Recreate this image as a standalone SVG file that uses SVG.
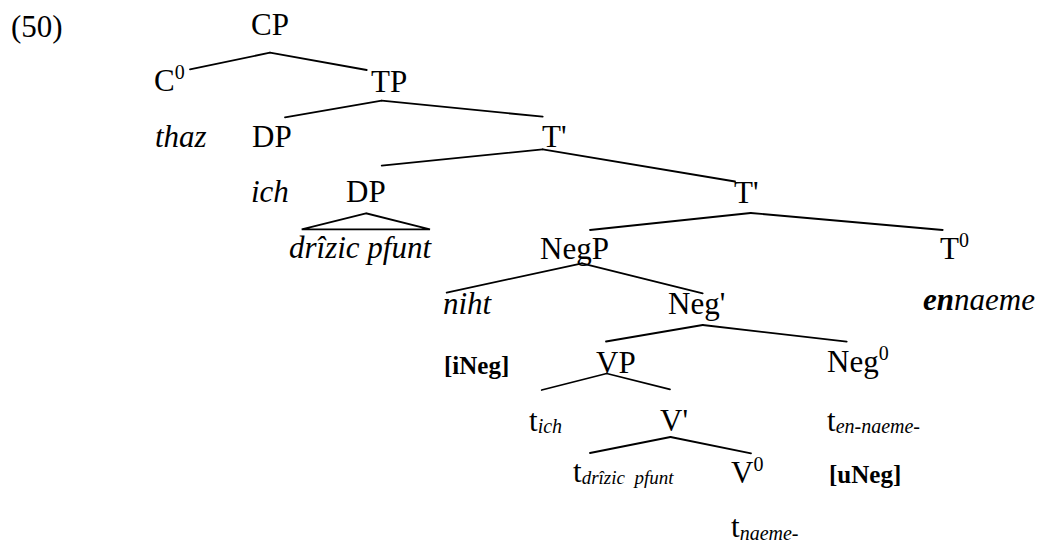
<svg xmlns="http://www.w3.org/2000/svg" width="1041" height="542" viewBox="0 0 1041 542">
<style>
text{font-family:"Liberation Serif",serif;font-size:31px;fill:#000}
.it{font-style:italic}
.b{font-weight:bold;font-size:25px}
.sup{font-size:20px}
.sub{font-size:20px;font-style:italic}
.sub2{font-size:19px;font-style:italic}
.edge{stroke:#000;stroke-width:1.8;fill:none;stroke-linecap:round}
</style>
<rect width="1041" height="542" fill="#fff"/>
<g id="connectors">
<line class="edge" x1="270" y1="52.7" x2="190" y2="69.3"/>
<line class="edge" x1="270" y1="52.7" x2="366.7" y2="70"/>
<line class="edge" x1="381.7" y1="100.7" x2="285" y2="117.3"/>
<line class="edge" x1="381.7" y1="100.7" x2="542.7" y2="116.7"/>
<line class="edge" x1="542.7" y1="149.3" x2="381.7" y2="165.7"/>
<line class="edge" x1="542.7" y1="149.3" x2="735" y2="181.5"/>
<line class="edge" x1="750.7" y1="213" x2="590" y2="230"/>
<line class="edge" x1="750.7" y1="213" x2="942.7" y2="230"/>
<line class="edge" x1="582" y1="263.3" x2="446.7" y2="292.7"/>
<line class="edge" x1="582" y1="263.3" x2="702.7" y2="293.3"/>
<line class="edge" x1="702.7" y1="325" x2="606" y2="341.5"/>
<line class="edge" x1="702.7" y1="325" x2="846.7" y2="341.7"/>
<line class="edge" x1="606.7" y1="373.5" x2="541.7" y2="390"/>
<line class="edge" x1="606.7" y1="373.5" x2="670" y2="389.3"/>
<line class="edge" x1="670.5" y1="437" x2="590" y2="453"/>
<line class="edge" x1="670.5" y1="437" x2="751" y2="453.3"/>
<polygon class="edge" points="366,213.3 301.7,229.3 430,229.3"/>
</g>
<g id="label50"><text x="11" y="37">(50)</text></g>
<g id="CP"><text x="251" y="35">CP</text></g>
<g id="C0"><text x="154" y="91">C<tspan class="sup" dy="-12">0</tspan></text></g>
<g id="TP"><text x="371" y="92">TP</text></g>
<g id="thaz"><text class="it" x="155" y="147">thaz</text></g>
<g id="DP1"><text x="252" y="147">DP</text></g>
<g id="Tbar1"><text x="542" y="147">T'</text></g>
<g id="ich"><text class="it" x="251" y="202">ich</text></g>
<g id="DP2"><text x="346" y="202">DP</text></g>
<g id="Tbar2"><text x="734" y="203">T'</text></g>
<g id="drizic"><text class="it" x="289" y="258">drîzic pfunt</text></g>
<g id="NegP"><text x="540" y="259">NegP</text></g>
<g id="T0"><text x="940" y="259">T<tspan class="sup" dy="-12">0</tspan></text></g>
<g id="niht"><text class="it" x="443" y="314">niht</text></g>
<g id="Negbar"><text x="668" y="314">Neg'</text></g>
<g id="ennaeme"><text class="it" x="923" y="310"><tspan font-weight="bold">en</tspan>naeme</text></g>
<g id="iNeg"><text class="b" x="444" y="374">[iNeg]</text></g>
<g id="VP"><text x="596" y="373">VP</text></g>
<g id="Neg0"><text x="827" y="372">Neg<tspan class="sup" dy="-12">0</tspan></text></g>
<g id="tich"><text x="529" y="431">t<tspan class="sub" dy="2">ich</tspan></text></g>
<g id="Vbar"><text x="660" y="431">V'</text></g>
<g id="tennaeme"><text x="827" y="431">t<tspan class="sub" dy="2">en-naeme-</tspan></text></g>
<g id="tdrizic"><text x="573" y="482" xml:space="preserve">t<tspan class="sub2" dy="2">drîzic  pfunt</tspan></text></g>
<g id="V0"><text x="731" y="483">V<tspan class="sup" dy="-12">0</tspan></text></g>
<g id="uNeg"><text class="b" x="829" y="483">[uNeg]</text></g>
<g id="tnaeme"><text x="731" y="537">t<tspan class="sub" dy="3">naeme-</tspan></text></g>
</svg>
